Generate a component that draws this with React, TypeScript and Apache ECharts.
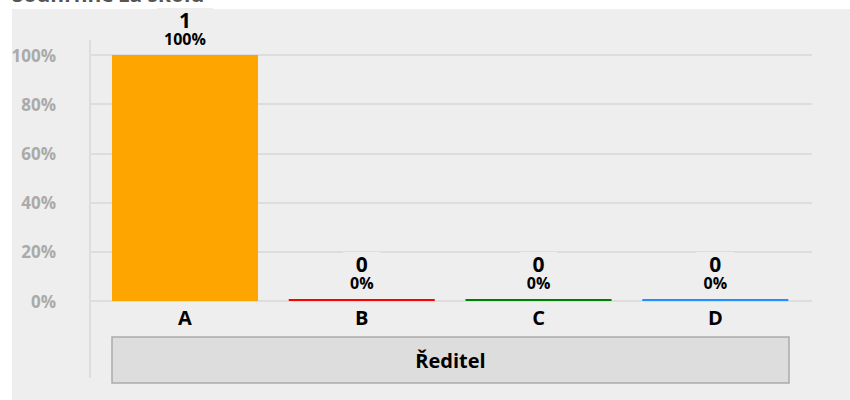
import React, { useEffect, useRef } from "react";
import * as echarts from "echarts";

const categories = ["A", "B", "C", "D"];
const counts = [1, 0, 0, 0];
const percents = [100, 0, 0, 0];
const barColors = ["#ffa500", "#ff0000", "#008000", "#1e90ff"];
const yTicks = [0, 20, 40, 60, 80, 100];
const groupLabel = "Ředitel";
const titleText = "Souhrnně za školu";

const FONT = "'Open Sans', 'Noto Sans', sans-serif";

export default function App() {
  const ref = useRef<HTMLDivElement>(null);
  useEffect(() => {
    if (!ref.current) return;
    const chart = echarts.init(ref.current, null, { renderer: "svg" });
    const gridTop = 55;
    const gridBottom = 99;
    chart.setOption({
      animation: false,
      backgroundColor: "#ffffff",
      textStyle: { fontFamily: FONT },
      grid: [
        { left: 90, right: 38, top: gridTop, bottom: gridBottom },
        { left: 96.6, right: 46.3, top: gridTop, bottom: gridBottom },
      ],
      xAxis: [
        { gridIndex: 0, type: "category", data: categories, show: false },
        {
          gridIndex: 1,
          type: "category",
          data: categories,
          axisLine: { show: false },
          axisTick: { show: false },
          axisLabel: {
            color: "#000",
            fontSize: 20,
            fontWeight: "bold",
            fontFamily: FONT,
            margin: 6,
          },
        },
      ],
      yAxis: [
        {
          gridIndex: 0,
          type: "value",
          min: yTicks[0],
          max: yTicks[yTicks.length - 1],
          interval: 20,
          axisLine: { show: false },
          axisTick: { show: false },
          splitLine: { lineStyle: { color: "#dddddd", width: 2 } },
          axisLabel: {
            color: "#aaaaaa",
            fontSize: 17,
            fontWeight: "bold",
            fontFamily: FONT,
            margin: 34,
            formatter: (v: number) => v + "%",
          },
        },
        {
          gridIndex: 1,
          type: "value",
          min: yTicks[0],
          max: yTicks[yTicks.length - 1],
          interval: 20,
          show: false,
        },
      ],
      graphic: [
        {
          type: "rect",
          z: -10,
          silent: true,
          shape: { x: 12, y: 9, width: 838, height: 391 },
          style: { fill: "#eeeeee" },
        },
        {
          type: "text",
          x: 12,
          y: 4,
          style: {
            text: titleText,
            fill: "#555555",
            font: "bold 21px " + FONT,
            verticalAlign: "bottom",
          },
        },
        {
          type: "line",
          z: -5,
          shape: { x1: 90, y1: 40, x2: 90, y2: 378 },
          style: { stroke: "#dddddd", lineWidth: 2 },
        },
        {
          type: "rect",
          shape: { x: 112, y: 337, width: 677, height: 46 },
          style: { fill: "#dddddd", stroke: "#aaaaaa", lineWidth: 1.5 },
        },
        {
          type: "text",
          x: 450.5,
          y: 360,
          style: {
            text: groupLabel,
            fill: "#000",
            font: "bold 20px " + FONT,
            align: "center",
            verticalAlign: "middle",
          },
        },
      ],
      series: [
        {
          type: "bar",
          xAxisIndex: 1,
          yAxisIndex: 1,
          barCategoryGap: "17.4%",
          barMinHeight: 2,
          data: percents.map((p, i) => ({
            value: p,
            itemStyle: { color: barColors[i] },
          })),
          label: {
            show: true,
            position: "top",
            distance: 5,
            backgroundColor: "#eeeeee",
            padding: [2, 7, 2, 7],
            formatter: (params: any) =>
              `{a|${counts[params.dataIndex]}}\n{b|${percents[params.dataIndex]}%}`,
            rich: {
              a: {
                fontSize: 21,
                fontWeight: "bold",
                color: "#000",
                lineHeight: 20,
                align: "center",
                fontFamily: FONT,
              },
              b: {
                fontSize: 16,
                fontWeight: "bold",
                color: "#000",
                lineHeight: 18,
                align: "center",
                fontFamily: FONT,
              },
            },
          },
        },
      ],
    });
    return () => chart.dispose();
  }, []);
  return (
    <div
      ref={ref}
      style={{ position: "absolute", left: 0, top: 0, width: 850, height: 400 }}
    />
  );
}
